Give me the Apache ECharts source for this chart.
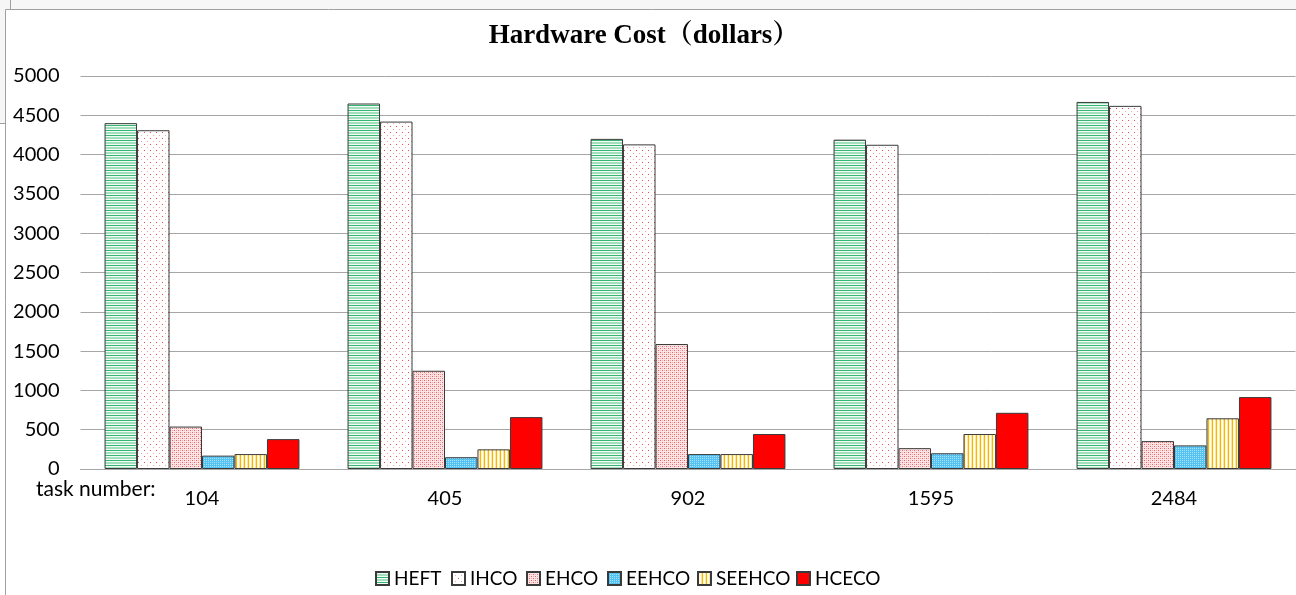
<!DOCTYPE html>
<html>
<head>
<meta charset="utf-8">
<script src="https://cdn.jsdelivr.net/npm/echarts@6/dist/echarts.min.js"></script>
<style>
  html, body { margin: 0; padding: 0; background: #ffffff; }
  #chart { width: 1296px; height: 595px; }
</style>
</head>
<body>
<div id="chart"></div>
<script>
// Task counts on the x axis
const categories = ['104', '405', '902', '1595', '2484'];

// Hardware cost per algorithm (dollars)
const heft   = [4400, 4650, 4200, 4190, 4670];
const ihco   = [4310, 4420, 4130, 4125, 4620];
const ehco   = [540, 1250, 1590, 265, 355];
const eehco  = [170, 150, 190, 200, 300];
const seehco = [190, 250, 190, 445, 645];
const hceco  = [380, 660, 445, 715, 915];

const seriesNames = ['HEFT', 'IHCO', 'EHCO', 'EEHCO', 'SEEHCO', 'HCECO'];
const seriesData = [heft, ihco, ehco, eehco, seehco, hceco];

// Left edge of each legend entry
const legendX = [375, 451, 526, 607, 697, 796];

// Small tiled canvases used as hatch fills for the bars
function tile(w, h, base, dots) {
  const c = document.createElement('canvas');
  c.width = w; c.height = h;
  const g = c.getContext('2d');
  g.fillStyle = base;
  g.fillRect(0, 0, w, h);
  dots.forEach(([x, y, dw, dh, col]) => {
    g.fillStyle = col;
    g.fillRect(x, y, dw, dh);
  });
  return { image: c, repeat: 'repeat' };
}

const fills = [
  // horizontal green stripes
  tile(5, 5, '#ffffff', [
    [0, 0, 5, 1, '#36b573'],
    [0, 1, 5, 1, '#f2fbf5'],
    [0, 2, 5, 1, '#a4dfbd'],
    [0, 3, 5, 1, '#a4dfbd'],
    [0, 4, 5, 1, '#f2fbf5']
  ]),
  // sparse red dots
  tile(6, 6, '#ffffff', [
    [0, 0, 1, 1, '#f04e4e'],
    [3, 3, 1, 1, '#f9a8a8']
  ]),
  // dense pink dots
  tile(4, 4, '#fce4e4', [
    [0, 0, 1, 1, '#e6646a'],
    [2, 2, 1, 1, '#e6646a'],
    [0, 2, 1, 1, '#f4b0b0'],
    [2, 0, 1, 1, '#f4b0b0']
  ]),
  // fine blue check
  tile(2, 2, '#55c3f2', [
    [0, 0, 1, 1, '#a8e2fa']
  ]),
  // vertical yellow stripes
  tile(4, 4, '#ffffff', [
    [0, 0, 1, 4, '#f5b800'],
    [1, 0, 1, 4, '#fff6d8'],
    [2, 0, 1, 4, '#ffffff'],
    [3, 0, 1, 4, '#fee6a0']
  ]),
  '#ff0000'
];

const chart = echarts.init(document.getElementById('chart'), null, { renderer: 'canvas' });

const labelFont = 'Lato, "Noto Sans", sans-serif';

chart.setOption({
  animation: false,
  backgroundColor: '#ffffff',
  grid: { left: 80.5, right: 0.5, top: 76, bottom: 126, containLabel: false },
  legend: seriesNames.map((name, i) => ({
    left: legendX[i] - 5,
    top: 564,
    itemWidth: 13,
    itemHeight: 13,
    itemGap: 0,
    icon: 'rect',
    textStyle: { fontFamily: labelFont, fontSize: 19, color: '#000000' },
    data: [name]
  })),
  xAxis: {
    type: 'category',
    data: categories,
    axisLine: { show: true, lineStyle: { color: '#a6a6a6', width: 1 } },
    axisTick: { show: false },
    axisLabel: { margin: 20, fontFamily: labelFont, fontSize: 20, color: '#000000' }
  },
  yAxis: {
    type: 'value',
    min: 0,
    max: 5000,
    interval: 500,
    axisLine: { show: false },
    axisTick: { show: false },
    axisLabel: {
      margin: 21, fontFamily: labelFont, fontSize: 20, color: '#000000',
      formatter: (v) => String(v)
    },
    splitLine: { lineStyle: { color: '#a6a6a6', width: 1 } }
  },
  series: seriesNames.map((name, i) => ({
    name: name,
    type: 'bar',
    data: seriesData[i],
    barGap: '0%',
    barCategoryGap: '19.8%',
    itemStyle: { color: fills[i], borderColor: '#3a3a3a', borderWidth: 1 }
  })),
  graphic: [
    // light strip above the chart frame
    { type: 'rect', shape: { x: 0, y: 0, width: 1296, height: 9 }, style: { fill: '#f6f6f6' }, z: -1 },
    { type: 'rect', shape: { x: 0, y: 0, width: 5, height: 123 }, style: { fill: '#f6f6f6' }, z: -1 },
    { type: 'line', shape: { x1: 10.5, y1: 0, x2: 10.5, y2: 9 }, style: { stroke: '#a0a0a0', lineWidth: 1 }, z: -1 },
    { type: 'line', shape: { x1: 0, y1: 123.5, x2: 5, y2: 123.5 }, style: { stroke: '#a0a0a0', lineWidth: 1 }, z: -1 },
    // chart frame
    { type: 'rect', shape: { x: 5.5, y: 9.5, width: 1300, height: 600 }, style: { fill: 'none', stroke: '#a0a0a0', lineWidth: 1 }, z: -1 },
    {
      type: 'text',
      x: 644, y: 36,
      style: {
        text: 'Hardware Cost（dollars）',
        fontFamily: '"Liberation Serif", "Noto Serif CJK SC", "Noto Sans CJK SC", serif',
        fontWeight: 'bold',
        fontSize: 27,
        fill: '#000000',
        align: 'center',
        verticalAlign: 'middle'
      }
    },
    {
      type: 'text',
      x: 36, y: 489,
      style: {
        text: 'task number:',
        fontFamily: labelFont,
        fontSize: 21,
        fill: '#000000',
        align: 'left',
        verticalAlign: 'middle'
      }
    }
  ]
});
</script>
</body>
</html>
